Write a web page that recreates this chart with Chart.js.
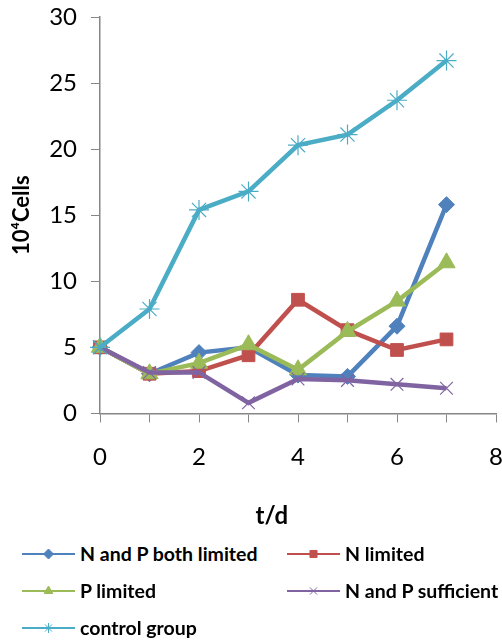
<!DOCTYPE html>
<html lang="en">
<head>
    <meta charset="UTF-8">
    <title>Cell growth</title>
    <script src="https://cdn.jsdelivr.net/npm/chart.js"></script>
    <style>
        body {
            margin: 0;
            padding: 0;
            background: #fff;
            font-family: Lato, "Liberation Sans", sans-serif;
        }
        .wrap {
            position: relative;
            width: 502px;
            height: 641px;
            overflow: hidden;
        }
        .chart-box {
            position: absolute;
            left: 0;
            top: 0;
            width: 502px;
            height: 531px;
        }
        #legend {
            position: absolute;
            left: 22px;
            top: 535px;
            width: 480px;
            display: grid;
            grid-template-columns: 265px 215px;
            grid-auto-rows: 37px;
            font-weight: bold;
            font-size: 19.5px;
            color: #000;
        }
        #legend .item {
            display: flex;
            align-items: center;
            white-space: nowrap;
        }
        #legend canvas {
            margin-right: 5px;
        }
    </style>
</head>
<body>
<div class="wrap">
    <div class="chart-box"><canvas id="chart"></canvas></div>
    <div id="legend"></div>
</div>

<script>
    // days
    const days = [0, 1, 2, 3, 4, 5, 6, 7];

    // series values (10^4 cells)
    const bothLimited = [5, 3, 4.6, 5.0, 2.9, 2.8, 6.6, 15.8];
    const nLimited = [5, 3, 3.2, 4.4, 8.6, 6.3, 4.8, 5.6];
    const pLimited = [5, 3, 3.8, 5.2, 3.3, 6.2, 8.5, 11.4];
    const sufficient = [5, 3.1, 3.1, 0.8, 2.6, 2.5, 2.2, 1.9];
    const control = [5, 7.9, 15.4, 16.8, 20.3, 21.1, 23.7, 26.7];

    const seriesNames = ["N and P both limited", "N limited", "P limited", "N and P sufficient", "control group"];
    const seriesValues = [bothLimited, nLimited, pLimited, sufficient, control];
    const seriesColors = ["#4F81BD", "#C0504D", "#9BBB59", "#8064A2", "#4BACC6"];
    const seriesPoints = ["rectRot", "rect", "triangle", "crossRot", "star"];
    const pointSizes = [8, 9, 10, 9, 10];

    const yTicks = [0, 5, 10, 15, 20, 25, 30];
    const xLabelTicks = [0, 2, 4, 6, 8];

    const axisGray = "#868686";

    const datasets = seriesNames.map((name, i) => {
        const cross = seriesPoints[i] === "crossRot" || seriesPoints[i] === "star";
        return {
            label: name,
            data: days.map((d, j) => ({ x: d, y: seriesValues[i][j] })),
            borderColor: seriesColors[i],
            backgroundColor: seriesColors[i],
            borderWidth: 4.5,
            pointStyle: seriesPoints[i],
            pointRadius: pointSizes[i],
            pointBorderWidth: cross ? 1.2 : 1,
            pointBackgroundColor: seriesColors[i],
            pointBorderColor: seriesColors[i],
            tension: 0,
            clip: false,
            order: seriesNames.length - i
        };
    });

    new Chart(document.getElementById("chart"), {
        type: "line",
        data: { datasets: datasets },
        options: {
            responsive: true,
            maintainAspectRatio: false,
            animation: false,
            layout: { autoPadding: false, padding: { top: 17, right: 6, left: 9, bottom: 0 } },
            plugins: {
                legend: { display: false },
                tooltip: { enabled: false }
            },
            scales: {
                x: {
                    type: "linear",
                    min: 0,
                    max: 8,
                    afterBuildTicks: scale => {
                        scale.ticks = days.concat([8]).map(v => ({ value: v }));
                    },
                    // no extra side room for the end labels ("8" sits on the edge)
                    afterFit: scale => {
                        scale.paddingLeft = 0;
                        scale.paddingRight = 0;
                    },
                    ticks: {
                        autoSkip: false,
                        maxRotation: 0,
                        padding: 20,
                        color: "#000",
                        font: { family: "Lato", size: 24 },
                        callback: v => xLabelTicks.includes(v) ? String(v) : ""
                    },
                    grid: {
                        drawOnChartArea: false,
                        drawTicks: true,
                        tickLength: 9,
                        color: axisGray
                    },
                    border: { display: true, color: axisGray, width: 1.5 },
                    title: {
                        display: true,
                        text: "t/d         ",
                        color: "#000",
                        font: { family: "Lato", size: 24, weight: "bold" },
                        padding: { top: 11, bottom: 0 }
                    }
                },
                y: {
                    min: 0,
                    max: 30,
                    afterBuildTicks: scale => {
                        scale.ticks = yTicks.map(v => ({ value: v }));
                    },
                    afterFit: scale => {
                        scale.width = 91;
                        scale.paddingTop = 0;
                        scale.paddingBottom = 0;
                    },
                    ticks: {
                        padding: 14,
                        color: "#000",
                        font: { family: "Lato", size: 24 }
                    },
                    grid: {
                        drawOnChartArea: false,
                        drawTicks: true,
                        tickLength: 9,
                        color: axisGray
                    },
                    border: { display: true, color: axisGray, width: 1.5 },
                    title: {
                        display: true,
                        text: "10\u2074Cells",
                        color: "#000",
                        font: { family: "Lato", size: 22, weight: "bold" },
                        padding: { top: 0, bottom: 15 }
                    }
                }
            }
        }
    });

    // legend in two columns, swatches drawn with Chart.js' own point helper
    const legendBox = document.getElementById("legend");
    seriesNames.forEach((name, i) => {
        const item = document.createElement("div");
        item.className = "item";
        const sw = document.createElement("canvas");
        sw.width = 53;
        sw.height = 20;
        const ctx = sw.getContext("2d");
        ctx.strokeStyle = seriesColors[i];
        ctx.lineWidth = 2;
        ctx.beginPath();
        ctx.moveTo(0, 10);
        ctx.lineTo(53, 10);
        ctx.stroke();
        ctx.fillStyle = seriesColors[i];
        ctx.lineWidth = 1;
        Chart.helpers.drawPoint(ctx, { pointStyle: seriesPoints[i], radius: 5, rotation: 0, borderWidth: 1 }, 26.5, 10);
        const label = document.createElement("span");
        label.textContent = name;
        item.appendChild(sw);
        item.appendChild(label);
        legendBox.appendChild(item);
    });
</script>
</body>
</html>
